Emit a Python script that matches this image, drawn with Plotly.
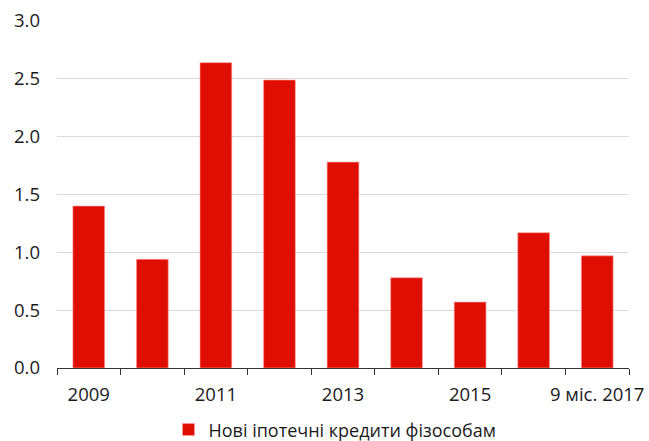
import plotly.graph_objects as go

# New mortgage loans to individuals, by year
categories = ["2009", "2010", "2011", "2012", "2013", "2014", "2015", "2016", "9 міс. 2017"]
values = [1.40, 0.94, 2.64, 2.49, 1.78, 0.78, 0.57, 1.17, 0.97]
# every second category is labelled on the axis
tick_labels = [c if i % 2 == 0 else "" for i, c in enumerate(categories)]
series_name = "Нові іпотечні кредити фізособам"

BAR_RED = "#DE0E02"
FONT = "Open Sans"
FS = 18.5

fig = go.Figure(
    go.Bar(
        x=categories,
        y=values,
        name=series_name,
        marker=dict(color=BAR_RED, line=dict(color="rgba(255,160,160,0.8)", width=0.8)),
        width=0.5,
        showlegend=True,
    )
)

fig.update_layout(
    width=649,
    height=441,
    margin=dict(l=57, r=20, t=21, b=73, autoexpand=False),
    plot_bgcolor="white",
    paper_bgcolor="white",
    font=dict(family=FONT, size=FS, color="#1a1a1a"),
    showlegend=True,
    legend=dict(
        orientation="h",
        x=0.486,
        xanchor="center",
        y=-0.125,
        yanchor="top",
        font=dict(family=FONT, size=18, color="#1a1a1a"),
        itemwidth=30,
    ),
    bargap=0.5,
)

fig.update_xaxes(
    type="category",
    tickmode="array",
    tickvals=categories,
    ticktext=tick_labels,
    tickson="boundaries",
    tickangle=0,
    automargin=False,
    ticks="outside",
    ticklen=6,
    tickcolor="#333333",
    showline=True,
    linecolor="#333333",
    linewidth=1,
    showgrid=False,
    ticklabelstandoff=10,
    tickfont=dict(family=FONT, size=FS, color="#1a1a1a"),
)

fig.update_yaxes(
    range=[0, 3.0],
    tickmode="linear",
    tick0=0,
    dtick=0.5,
    tickformat=".1f",
    automargin=False,
    showgrid=True,
    gridcolor="#D9D9D9",
    gridwidth=1,
    zeroline=False,
    showline=False,
    ticks="",
    ticklabelstandoff=16,
    tickfont=dict(family=FONT, size=FS, color="#1a1a1a"),
)

fig.write_html("out.html")
